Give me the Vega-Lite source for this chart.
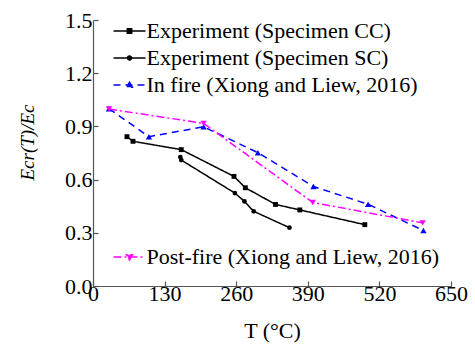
{
  "$schema": "https://vega.github.io/schema/vega-lite/v6.json",
  "width": 358,
  "height": 266,
  "autosize": {"type": "none"},
  "padding": {"left": 93, "top": 20, "right": 24, "bottom": 60},
  "background": "white",
  "config": {
    "view": {"stroke": null},
    "font": "Liberation Serif",
    "axis": {
      "labelFont": "Liberation Serif",
      "titleFont": "Liberation Serif",
      "labelFontSize": 22,
      "titleFontSize": 22,
      "labelColor": "#000000",
      "titleColor": "#000000",
      "titleFontWeight": "normal",
      "domainColor": "#555555",
      "tickColor": "#555555",
      "domainWidth": 1.2,
      "tickWidth": 1.2,
      "tickSize": -5,
      "grid": false
    },
    "legend": {
      "labelFont": "Liberation Serif",
      "labelFontSize": 22,
      "labelColor": "#000000",
      "labelLimit": 0
    }
  },
  "datasets": {
    "exp": [
      {"series": "Experiment (Specimen CC)", "T": 61.7, "ratio": 0.842},
      {"series": "Experiment (Specimen CC)", "T": 72.6, "ratio": 0.816},
      {"series": "Experiment (Specimen CC)", "T": 160.2, "ratio": 0.769},
      {"series": "Experiment (Specimen CC)", "T": 256, "ratio": 0.618},
      {"series": "Experiment (Specimen CC)", "T": 276.6, "ratio": 0.554},
      {"series": "Experiment (Specimen CC)", "T": 331.4, "ratio": 0.46},
      {"series": "Experiment (Specimen CC)", "T": 375.5, "ratio": 0.429},
      {"series": "Experiment (Specimen CC)", "T": 493.5, "ratio": 0.346},
      {"series": "Experiment (Specimen SC)", "T": 158.5, "ratio": 0.727},
      {"series": "Experiment (Specimen SC)", "T": 160.3, "ratio": 0.71},
      {"series": "Experiment (Specimen SC)", "T": 257.6, "ratio": 0.524},
      {"series": "Experiment (Specimen SC)", "T": 275, "ratio": 0.477},
      {"series": "Experiment (Specimen SC)", "T": 291.8, "ratio": 0.421},
      {"series": "Experiment (Specimen SC)", "T": 356.7, "ratio": 0.329},
      {"series": "In fire (Xiong and Liew, 2016)", "T": 29, "ratio": 1.0},
      {"series": "In fire (Xiong and Liew, 2016)", "T": 101.6, "ratio": 0.842},
      {"series": "In fire (Xiong and Liew, 2016)", "T": 200.8, "ratio": 0.898},
      {"series": "In fire (Xiong and Liew, 2016)", "T": 299.3, "ratio": 0.752},
      {"series": "In fire (Xiong and Liew, 2016)", "T": 400.3, "ratio": 0.561},
      {"series": "In fire (Xiong and Liew, 2016)", "T": 499.5, "ratio": 0.461},
      {"series": "In fire (Xiong and Liew, 2016)", "T": 599.9, "ratio": 0.313}
    ],
    "post": [
      {"series": "Post-fire (Xiong and Liew, 2016)", "T": 29, "ratio": 0.998},
      {"series": "Post-fire (Xiong and Liew, 2016)", "T": 200.8, "ratio": 0.917},
      {"series": "Post-fire (Xiong and Liew, 2016)", "T": 399, "ratio": 0.471},
      {"series": "Post-fire (Xiong and Liew, 2016)", "T": 598.6, "ratio": 0.356}
    ]
  },
  "encoding": {
    "x": {
      "field": "T", "type": "quantitative",
      "scale": {"domain": [0, 650], "nice": false, "zero": false},
      "axis": {"values": [0, 130, 260, 390, 520, 650], "title": "T (°C)", "labelPadding": 2, "titlePadding": 16, "labelFlush": false}
    },
    "y": {
      "field": "ratio", "type": "quantitative",
      "scale": {"domain": [0, 1.5], "nice": false},
      "axis": {"values": [0, 0.3, 0.6, 0.9, 1.2, 1.5], "format": ".1f", "title": "Ecr(T)/Ec", "titleFontStyle": "italic", "titleFontSize": 19, "labelPadding": 6, "titlePadding": 27, "titleY": 122, "labelFlush": false}
    }
  },
  "layer": [
    {
      "data": {"name": "exp"},
      "layer": [
        {
          "mark": {"type": "line", "strokeWidth": 1.5},
          "encoding": {
            "color": {
              "field": "series", "type": "nominal",
              "scale": {"domain": ["Experiment (Specimen CC)", "Experiment (Specimen SC)", "In fire (Xiong and Liew, 2016)"], "range": ["#000000", "#000000", "#0000ff"]},
              "legend": {
                "orient": "none", "legendX": 25.5, "legendY": 0, "title": null,
                "padding": 0, "symbolSize": 64, "labelOffset": 6, "rowPadding": 5,
                "symbolStrokeWidth": 1.5,
                "encode": {"symbols": {"update": {
                  "shape": {"signal": "datum.value === 'Experiment (Specimen CC)' ? 'M-4,0L4,0M-0.55,-0.55L0.55,-0.55L0.55,0.55L-0.55,0.55Z' : datum.value === 'Experiment (Specimen SC)' ? 'M-4,0L4,0M-0.5,0A0.5,0.5 0 1,0 0.5,0A0.5,0.5 0 1,0 -0.5,0Z' : 'M-4,0L4,0M0,-0.7L0.7,0.55L-0.7,0.55Z'"},
                  "strokeDash": {"signal": "datum.value === 'In fire (Xiong and Liew, 2016)' ? [7,5] : [1,0]"},
                  "stroke": {"signal": "datum.value === 'In fire (Xiong and Liew, 2016)' ? '#0000ff' : '#000000'"},
                  "fill": {"signal": "datum.value === 'In fire (Xiong and Liew, 2016)' ? '#0000ff' : '#000000'"},
                  "strokeWidth": {"value": 1.5},
                  "opacity": {"value": 1},
                  "fillOpacity": {"value": 1}
                }}}
              }
            },
            "strokeDash": {
              "field": "series", "type": "nominal",
              "scale": {"domain": ["Experiment (Specimen CC)", "Experiment (Specimen SC)", "In fire (Xiong and Liew, 2016)"], "range": [[1, 0], [1, 0], [7, 5]]},
              "legend": null
            }
          }
        },
        {
          "transform": [{"filter": "datum.series === 'Experiment (Specimen CC)'"}],
          "mark": {"type": "point", "filled": true, "opacity": 1, "shape": "square", "size": 24, "color": "#000000"}
        },
        {
          "transform": [{"filter": "datum.series === 'Experiment (Specimen SC)'"}],
          "mark": {"type": "point", "filled": true, "opacity": 1, "shape": "circle", "size": 22, "color": "#000000"}
        },
        {
          "transform": [{"filter": "datum.series === 'In fire (Xiong and Liew, 2016)'"}],
          "mark": {"type": "point", "filled": true, "opacity": 1, "shape": "triangle-up", "size": 40, "color": "#0000ff"}
        }
      ]
    },
    {
      "data": {"name": "post"},
      "layer": [
        {
          "mark": {"type": "line", "strokeWidth": 1.5, "strokeDash": [8, 3, 2, 3]},
          "encoding": {
            "color": {
              "field": "series", "type": "nominal",
              "scale": {"domain": ["Post-fire (Xiong and Liew, 2016)"], "range": ["#ff00ff"]},
              "legend": {
                "orient": "none", "legendX": 25.5, "legendY": 226, "title": null,
                "padding": 0, "symbolSize": 64, "labelOffset": 6,
                "symbolStrokeWidth": 1.5,
                "encode": {"symbols": {"update": {
                  "shape": {"value": "M-4,0L4,0M0,0.75L0.75,-0.55L-0.75,-0.55Z"},
                  "strokeDash": {"value": [8, 3, 2, 3]},
                  "stroke": {"value": "#ff00ff"},
                  "fill": {"value": "#ff00ff"},
                  "strokeWidth": {"value": 1.5},
                  "opacity": {"value": 1},
                  "fillOpacity": {"value": 1}
                }}}
              }
            }
          }
        },
        {
          "mark": {"type": "point", "filled": true, "opacity": 1, "shape": "triangle-down", "size": 40, "color": "#ff00ff"}
        }
      ]
    }
  ],
  "resolve": {
    "scale": {"color": "independent", "strokeDash": "independent"},
    "legend": {"color": "independent"}
  }
}
